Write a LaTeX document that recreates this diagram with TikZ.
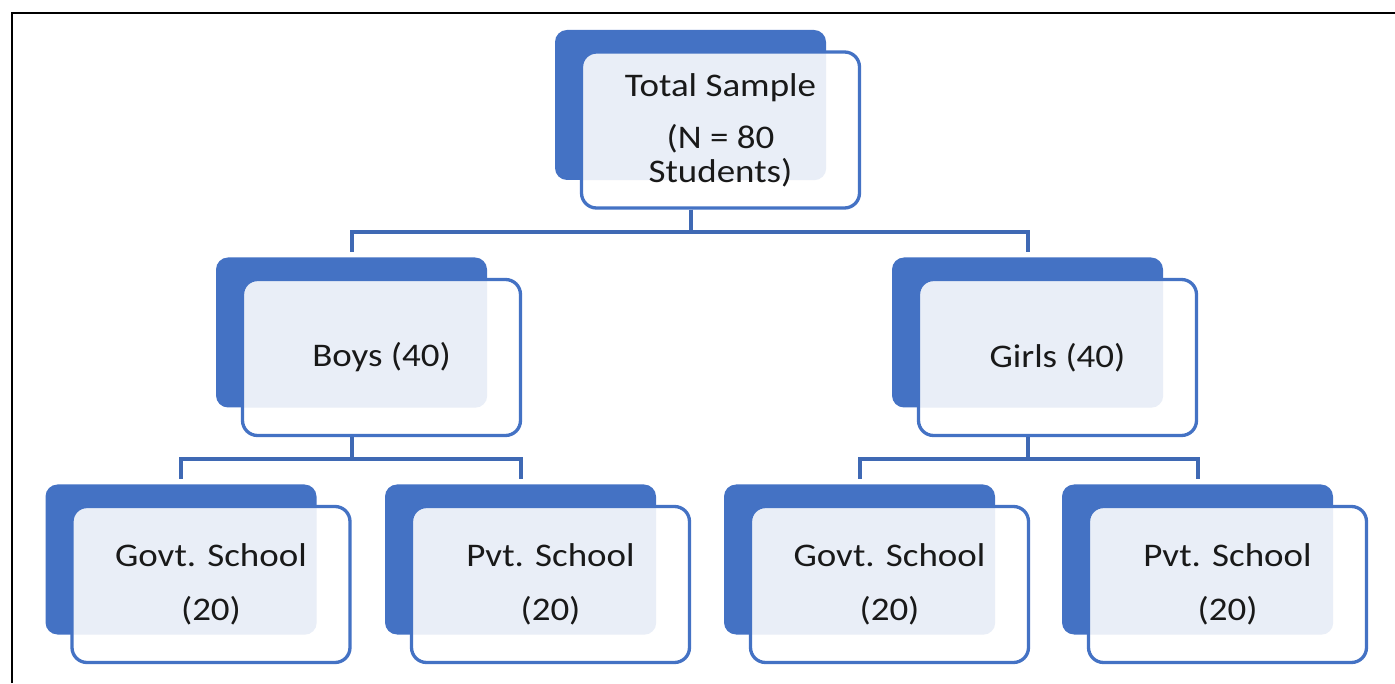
\documentclass[tikz,border=0pt]{standalone}
\usepackage{fontspec}
\setmainfont{Carlito}[FakeStretch=1.12]
\usepackage{tikz,xcolor}
\usetikzlibrary{calc}
\definecolor{accent}{HTML}{4472C4}
\definecolor{paleblue}{HTML}{E9EEF7}
\newcommand{\Cohort}[3]{%
\node[BackBox] (#1-b) at (#2) {};
\node[FrontBox, path picture={\fill[paleblue, rounded corners=12pt] (#1-b.south west) rectangle (#1-b.north east);}] (#1) at ($(#1-b)+(30,-25)$) {#3};}

\begin{document}
\begin{tikzpicture}[x=1pt,y=1pt]
\tikzstyle{BackBox}=[rectangle, rounded corners=12pt, fill=accent, minimum width=271pt, minimum height=150pt, inner sep=0pt]
\tikzstyle{FrontBox}=[rectangle, rounded corners=15pt, fill=white, draw=accent, line width=3.3pt, minimum width=278pt, minimum height=156pt, inner sep=0pt, align=center, text=black!90, font=\fontsize{33}{34}\selectfont]
\tikzstyle{EdgeStyle}=[draw=accent!92!black, line width=4pt, shorten >=5pt]
\useasboundingbox (0,0) rectangle (1395,683);
\draw[line width=2pt] (12,0) -- (12,670) -- (1395,670);

\Cohort{top}{690.5,578}{Total Sample\\[18pt](N = 80\\Students)}
\Cohort{boys}{351.5,350.5}{Boys (40)}
\Cohort{girls}{1027.5,350.5}{Girls (40)}
\Cohort{bgovt}{181,123.5}{Govt. School\\[20pt](20)}
\Cohort{bpvt}{520.5,123.5}{Pvt. School\\[20pt](20)}
\Cohort{ggovt}{859.5,123.5}{Govt. School\\[20pt](20)}
\Cohort{gpvt}{1197.5,123.5}{Pvt. School\\[20pt](20)}

\draw[EdgeStyle] (top-b.south |- top.south) -- ++(0,-22) -| (boys-b.north);
\draw[EdgeStyle] (top-b.south |- top.south) -- ++(0,-22) -| (girls-b.north);
\draw[EdgeStyle] (boys-b.south |- boys.south) -- ++(0,-22) -| (bgovt-b.north);
\draw[EdgeStyle] (boys-b.south |- boys.south) -- ++(0,-22) -| (bpvt-b.north);
\draw[EdgeStyle] (girls-b.south |- girls.south) -- ++(0,-22) -| (ggovt-b.north);
\draw[EdgeStyle] (girls-b.south |- girls.south) -- ++(0,-22) -| (gpvt-b.north);
\end{tikzpicture}
\end{document}
